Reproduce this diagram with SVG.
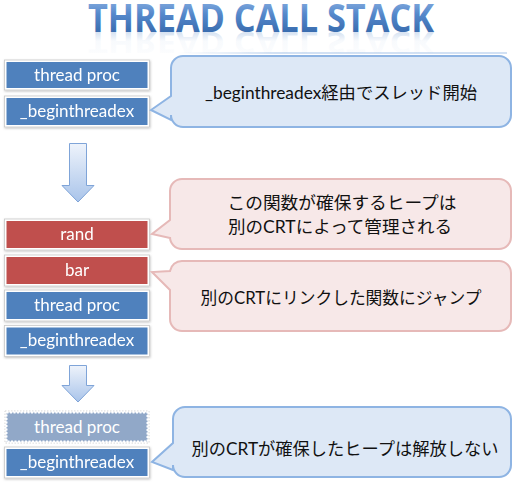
<svg xmlns="http://www.w3.org/2000/svg" width="516" height="484" viewBox="0 0 516 484">
<defs>
  <linearGradient id="titleGrad" x1="0" y1="0" x2="0" y2="1">
    <stop offset="0" stop-color="#a9c7ee"/>
    <stop offset="0.45" stop-color="#5689cc"/>
    <stop offset="1" stop-color="#275a9c"/>
  </linearGradient>
  <linearGradient id="reflGrad" x1="0" y1="0" x2="0" y2="1">
    <stop offset="0" stop-color="#4f81bd" stop-opacity="0"/>
    <stop offset="0.55" stop-color="#6d98cf" stop-opacity="0.05"/>
    <stop offset="1" stop-color="#6d98cf" stop-opacity="0.5"/>
  </linearGradient>
  <linearGradient id="arrowGrad" x1="0" y1="0" x2="0" y2="1">
    <stop offset="0" stop-color="#eef3fb"/>
    <stop offset="1" stop-color="#a9c4ea"/>
  </linearGradient>
  <linearGradient id="lineGrad" x1="0" y1="0" x2="1" y2="0">
    <stop offset="0" stop-color="#8fb4e3" stop-opacity="0"/>
    <stop offset="0.3" stop-color="#8fb4e3" stop-opacity="0.8"/>
    <stop offset="1" stop-color="#8fb4e3" stop-opacity="0.8"/>
  </linearGradient>
  <filter id="shadow" x="-5%" y="-10%" width="110%" height="130%">
    <feDropShadow dx="0.5" dy="1" stdDeviation="0.8" flood-color="#000" flood-opacity="0.25"/>
  </filter>
</defs>
<style>
  .title { font-family: "Open Sans", "Noto Sans", sans-serif; font-weight: bold; font-size: 40px; }
  .frame { fill: #ffffff; stroke: #c9c9c9; stroke-width: 0.8; }
  .blue { fill: #4f81bd; }
  .red { fill: #c0504d; }
  .faded { fill: #91a8c8; }
  .btxt { font-family: Lato, "Open Sans", sans-serif; font-size: 17px; fill: #ffffff; text-anchor: middle; }
  .cblue { fill: #dde8f6; stroke: #8eb4e3; stroke-width: 2; }
  .cpink { fill: #f7e8e8; stroke: #e6b9b8; stroke-width: 2; }
  .ctxt { font-family: Lato, "Noto Sans CJK JP", sans-serif; font-size: 17px; fill: #111111; text-anchor: middle; }
  .arrow { fill: url(#arrowGrad); stroke: #7fa4d8; stroke-width: 1; }
</style>

<!-- title -->
<g id="title">
  <text class="title" x="261" y="32" text-anchor="middle" textLength="346" lengthAdjust="spacingAndGlyphs" fill="url(#titleGrad)">THREAD CALL STACK</text>
  <g transform="translate(0,32) scale(1,-0.7)">
    <text class="title" x="261" y="0" text-anchor="middle" textLength="346" lengthAdjust="spacingAndGlyphs" fill="url(#reflGrad)">THREAD CALL STACK</text>
  </g>
  <rect x="177" y="52.5" width="330" height="1" fill="url(#lineGrad)"/>
</g>

<!-- connectors (block arrows) -->
<g id="connectors">
  <path class="arrow" d="M69.5 143.5 H86.5 V185.5 H94 L78 202 L62 185.5 H69.5 Z"/>
  <path class="arrow" d="M69.5 365.5 H86.5 V385.5 H94 L78 402 L62 385.5 H69.5 Z"/>
</g>

<!-- stack 1 -->
<g id="s1-threadproc" filter="url(#shadow)">
  <rect class="frame" x="4.5" y="60" width="145" height="30"/>
  <rect class="blue" x="6.5" y="62" width="141" height="26"/>
  <text class="btxt" x="77" y="81">thread proc</text>
</g>
<g id="s1-beginthreadex" filter="url(#shadow)">
  <rect class="frame" x="4.5" y="96" width="145" height="31"/>
  <rect class="blue" x="6.5" y="98" width="141" height="27"/>
  <text class="btxt" x="77" y="117">_beginthreadex</text>
</g>
<g id="callout1">
  <path class="cblue" d="M183 56 H499 A12 12 0 0 1 511 68 V115 A12 12 0 0 1 499 127 H183 A12 12 0 0 1 171 115 V120 L151 110 L171 96 V68 A12 12 0 0 1 183 56 Z"/>
  <text class="ctxt" x="341" y="99" textLength="272" lengthAdjust="spacingAndGlyphs">_beginthreadex経由でスレッド開始</text>
</g>

<!-- stack 2 -->
<g id="s2-rand" filter="url(#shadow)">
  <rect class="frame" x="4.5" y="219" width="145" height="31"/>
  <rect class="red" x="6.5" y="221" width="141" height="27"/>
  <text class="btxt" x="77" y="240">rand</text>
</g>
<g id="s2-bar" filter="url(#shadow)">
  <rect class="frame" x="4.5" y="255" width="145" height="31"/>
  <rect class="red" x="6.5" y="257" width="141" height="27"/>
  <text class="btxt" x="77" y="276">bar</text>
</g>
<g id="s2-threadproc" filter="url(#shadow)">
  <rect class="frame" x="4.5" y="290" width="145" height="31"/>
  <rect class="blue" x="6.5" y="292" width="141" height="27"/>
  <text class="btxt" x="77" y="311">thread proc</text>
</g>
<g id="s2-beginthreadex" filter="url(#shadow)">
  <rect class="frame" x="4.5" y="325.5" width="145" height="31"/>
  <rect class="blue" x="6.5" y="327.5" width="141" height="27"/>
  <text class="btxt" x="77" y="346">_beginthreadex</text>
</g>
<g id="callout2">
  <path class="cpink" d="M182 179 H499 A12 12 0 0 1 511 191 V237 A12 12 0 0 1 499 249 H182 A12 12 0 0 1 170 237 V238 L152 234 L170 220 V191 A12 12 0 0 1 182 179 Z"/>
  <text class="ctxt" x="342" y="209" textLength="229" lengthAdjust="spacingAndGlyphs">この関数が確保するヒープは</text>
  <text class="ctxt" x="340" y="233" textLength="224" lengthAdjust="spacingAndGlyphs">別のCRTによって管理される</text>
</g>
<g id="callout3">
  <path class="cpink" d="M182 261 H499 A12 12 0 0 1 511 273 V319 A12 12 0 0 1 499 331 H182 A12 12 0 0 1 170 319 V290 L152 272 L170 271 A12 12 0 0 1 182 261 Z"/>
  <text class="ctxt" x="341" y="304" textLength="281" lengthAdjust="spacingAndGlyphs">別のCRTにリンクした関数にジャンプ</text>
</g>

<!-- stack 3 -->
<g id="s3-threadproc">
  <rect x="5" y="411" width="144" height="32" fill="#ffffff" stroke="#c9c9c9" stroke-width="0.8" stroke-dasharray="1.5 1.5"/>
  <rect class="faded" x="6.5" y="412.5" width="141" height="29"/>
  <rect x="6.5" y="412.5" width="141" height="29" fill="none" stroke="#ffffff" stroke-width="2" stroke-dasharray="2 1.5"/>
  <text class="btxt" x="77" y="433">thread proc</text>
</g>
<g id="s3-beginthreadex" filter="url(#shadow)">
  <rect class="frame" x="4.5" y="447" width="145" height="31"/>
  <rect class="blue" x="6.5" y="449" width="141" height="27"/>
  <text class="btxt" x="77" y="468">_beginthreadex</text>
</g>
<g id="callout4">
  <path class="cblue" d="M185 407 H499 A12 12 0 0 1 511 419 V465 A12 12 0 0 1 499 477 H185 A12 12 0 0 1 173 465 V470 L152 462 L173 443 V419 A12 12 0 0 1 185 407 Z"/>
  <text class="ctxt" x="345" y="455" textLength="307" lengthAdjust="spacingAndGlyphs">別のCRTが確保したヒープは解放しない</text>
</g>
</svg>
